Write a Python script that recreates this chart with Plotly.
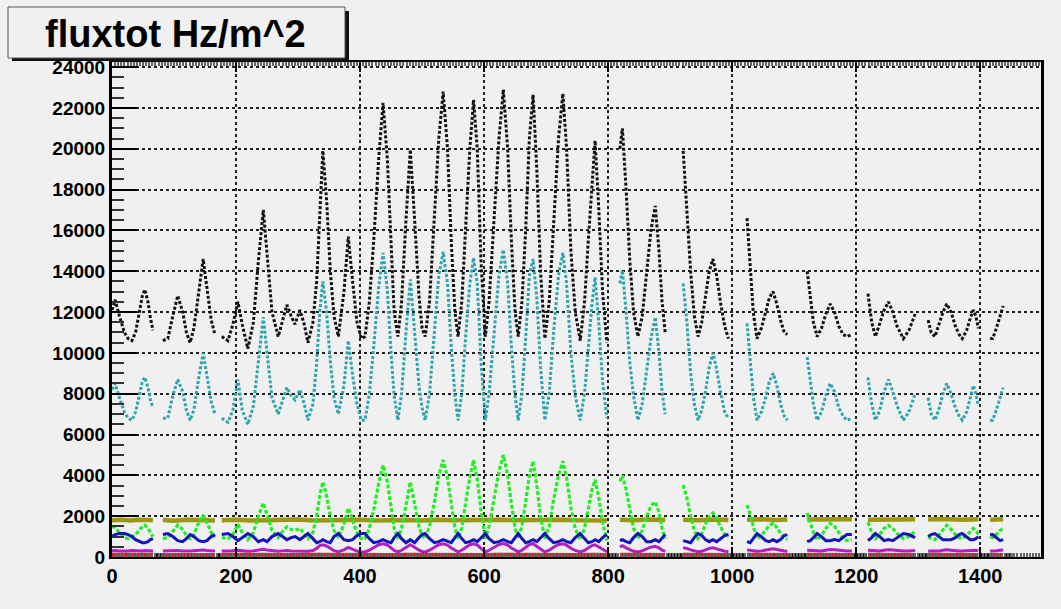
import plotly.graph_objects as go

# ---------------- data ----------------
x_pts = [
    0, 5, 12, 20, 26, 32, 38, 44, 49, 53, 58, 62, 66,
    82, 90, 98, 106, 114, 120, 126, 132, 140, 147, 153, 160, 166,
    177, 187, 195, 203, 210, 219, 228, 236, 244, 250,
    258, 268, 275, 282, 289, 295, 303, 310, 316, 324,
    330, 335, 340, 346, 352, 358, 365, 374, 381, 388,
    395, 402, 408, 415, 422, 430, 437, 444, 450, 455,
    461, 467, 474, 481, 488, 495, 500, 505, 512, 520,
    527, 534, 541, 547, 553, 558, 564, 570, 577, 583,
    589, 595, 602, 608, 616, 624, 631, 638, 644, 650,
    655, 661, 667, 673, 679, 685, 691, 698, 705, 712,
    720, 727, 733, 740, 747, 755, 762, 768, 774, 779,
    785, 791, 798,
    819, 823, 829, 835, 841, 848, 855, 862, 869, 876, 882, 887, 892,
    921, 927, 933, 939, 945, 951, 957, 963, 969, 975, 981, 988, 994,
    1024, 1029, 1034, 1040, 1047, 1054, 1060, 1066, 1072, 1078, 1084, 1089,
    1121, 1126, 1131, 1137, 1144, 1151, 1158, 1165, 1172, 1179, 1185, 1193,
    1219, 1225, 1231, 1238, 1245, 1252, 1259, 1266, 1276, 1285, 1295,
    1316, 1321, 1327, 1334, 1340, 1346, 1353, 1360, 1366, 1371, 1378, 1384, 1389, 1393, 1397,
    1416, 1420, 1426, 1432, 1437,
]

flux_total = [
    12100, 12600, 11800, 11000, 10700, 10600, 11000, 12000, 12800, 13100, 12500, 11700, 11100,
    10600, 10700, 11800, 12800, 12000, 11000, 10500, 11200, 13000, 14600, 13200, 11600, 10900,
    10800, 10600, 11400, 12500, 11400, 10200, 11500, 14500, 17000, 14800,
    12000, 10800, 11600, 12350, 11800, 11400, 12100, 11400, 10500, 11500,
    13500, 17000, 19900, 17500, 14000, 11800, 10800, 13000, 15700, 13500,
    11500, 10700, 10800, 12500, 15500, 19500, 22250, 19500, 15000, 12000,
    10800, 12500, 16500, 19950, 16500, 12800, 11200, 10800, 12500, 16500,
    20500, 22800, 20000, 15500, 12000, 10800, 12500, 16000, 20000, 22400,
    20000, 14500, 10800, 12500, 16500, 20500, 22900, 20000, 15500, 12000,
    10800, 12500, 16000, 20500, 22650, 19000, 14000, 10700, 12500, 16500,
    20500, 22700, 20000, 15000, 12000, 10600, 12500, 15500, 18500, 20400,
    17000, 13000, 10500,
    20000, 21000, 18000, 14500, 12000, 10800, 11800, 14000, 16000, 17200, 15000, 12500, 11000,
    19900, 17000, 14000, 11800, 10800, 11500, 12800, 14000, 14600, 13800, 12500, 11300, 10700,
    16600, 14500, 12000, 10700, 11200, 12000, 12700, 13000, 12400, 11600, 11000, 10900,
    14000, 12800, 11500, 10800, 11200, 11900, 12400, 12000, 11300, 10900, 10800, 10900,
    12900, 11500, 10800, 11400, 12100, 12500, 12000, 11300, 10700, 11100, 11900,
    11600, 11000, 10800, 11400, 12000, 12400, 12000, 11300, 10900, 10700, 11100, 11700, 12100, 11800, 11200,
    10700, 10700, 11200, 11800, 12300,
]

flux_cyan = [
    8200, 8500, 7800, 7100, 6800, 6700, 7100, 7900, 8600, 8800, 8300, 7700, 7300,
    6800, 6800, 7900, 8700, 8100, 7200, 6700, 7200, 8800, 10000, 8900, 7600, 7000,
    6800, 6600, 7200, 8700, 7200, 6500, 7400, 9700, 11750, 10000,
    7800, 7000, 7600, 8300, 7900, 7700, 8200, 7500, 6700, 7500,
    9500, 12000, 13500, 12000, 9600, 7800, 7000, 8400, 10600, 8900,
    7500, 6700, 6700, 8000, 10300, 13200, 14900, 13100, 10000, 7900,
    6700, 8000, 11000, 13600, 11000, 8400, 7300, 6700, 8000, 11000,
    13800, 14950, 13400, 10300, 7900, 6700, 8000, 10700, 13400, 14650,
    13400, 9600, 6700, 8000, 11000, 13800, 15050, 13400, 10300, 7900,
    6700, 8000, 10700, 13800, 14600, 12700, 9300, 6700, 8000, 11000,
    13800, 14900, 13400, 10000, 7900, 6700, 8000, 10300, 12400, 13700,
    11400, 8600, 6800,
    13400, 14050, 12000, 9500, 7900, 6700, 7500, 9000, 10700, 11750, 10000, 8100, 7000,
    13400, 11500, 9000, 7500, 6700, 7200, 8100, 9300, 10000, 9200, 8100, 7100, 6800,
    11450, 9500, 7900, 6700, 7100, 7800, 8600, 9000, 8400, 7500, 6900, 6700,
    9800, 8600, 7500, 6700, 7100, 7900, 8500, 8100, 7300, 6900, 6700, 6800,
    8800, 7500, 6700, 7200, 8100, 8700, 8100, 7400, 6700, 7100, 8000,
    7800, 7000, 6700, 7300, 8000, 8500, 8000, 7300, 6900, 6700, 7100, 7800, 8400, 8000, 7400,
    6700, 6700, 7200, 7800, 8300,
]

flux_green = [
    1500, 1450, 1200, 950, 900, 1000, 1100, 1300, 1500, 1560, 1400, 1200, 1000,
    900, 950, 1250, 1560, 1350, 1050, 900, 1100, 1700, 2050, 1700, 1200, 950,
    950, 900, 1100, 1600, 1200, 850, 1200, 2000, 2650, 2100,
    1300, 950, 1250, 1470, 1350, 1300, 1400, 1150, 900, 1200,
    2000, 3000, 3680, 3000, 2000, 1300, 950, 1600, 2400, 1800,
    1200, 900, 900, 1400, 2300, 3600, 4500, 3700, 2400, 1400,
    900, 1400, 2500, 3680, 2600, 1500, 1050, 900, 1500, 2700,
    4000, 4750, 3900, 2500, 1400, 900, 1400, 2600, 3900, 4750,
    3800, 2300, 900, 1500, 2800, 4200, 5000, 4000, 2600, 1400,
    900, 1500, 2700, 4000, 4700, 3500, 2000, 900, 1500, 2800,
    4000, 4700, 3900, 2400, 1400, 850, 1400, 2400, 3300, 3780,
    2900, 1700, 800,
    3700, 4000, 3300, 2300, 1400, 900, 1300, 2000, 2500, 2700, 2200, 1400, 900,
    3530, 2900, 2000, 1300, 900, 1150, 1600, 2000, 2150, 1900, 1500, 1100, 1000,
    2550, 2100, 1500, 900, 1050, 1300, 1550, 1650, 1450, 1150, 950, 850,
    2150, 1700, 1200, 850, 1050, 1400, 1650, 1500, 1200, 900, 800, 850,
    1700, 1200, 900, 1100, 1400, 1550, 1400, 1150, 900, 1000, 1250,
    1000, 900, 850, 1100, 1350, 1550, 1350, 1100, 950, 900, 1050, 1250, 1400, 1300, 1100,
    1000, 950, 1100, 1300, 1400,
]

flux_blue = [
    1000, 1100, 1150, 1150, 1100, 1000, 850, 750, 700, 700, 750, 850, 900,
    1100, 1150, 1000, 800, 750, 900, 1100, 1000, 800, 750, 800, 1000, 1100,
    1100, 1150, 1000, 800, 950, 1150, 1000, 750, 850, 750,
    1000, 1150, 1000, 850, 950, 1000, 850, 1000, 1150, 900,
    700, 750, 850, 750, 700, 1000, 1150, 850, 800, 850,
    1050, 1150, 1150, 900, 700, 750, 850, 750, 700, 950,
    1150, 900, 700, 850, 700, 950, 1100, 1150, 900, 700,
    750, 850, 750, 700, 950, 1150, 900, 700, 750, 850,
    750, 950, 1150, 900, 700, 750, 850, 750, 700, 950,
    1150, 900, 700, 750, 850, 750, 950, 1150, 900, 700,
    750, 850, 750, 700, 950, 1150, 900, 700, 750, 850,
    750, 950, 1100,
    800, 850, 750, 700, 950, 1150, 1000, 750, 750, 850, 750, 950, 1100,
    800, 750, 700, 950, 1150, 1050, 850, 750, 850, 750, 900, 1050, 1100,
    750, 700, 900, 1150, 1000, 800, 750, 850, 750, 850, 1050, 1100,
    750, 800, 950, 1150, 1000, 800, 800, 850, 800, 950, 1100, 1100,
    800, 950, 1150, 1000, 800, 850, 800, 950, 1150, 1100, 950,
    1000, 1100, 1150, 1000, 850, 850, 850, 950, 1100, 1150, 1000, 850, 850, 900, 1000,
    1100, 1100, 950, 800, 850,
]

flux_magenta = [
    300, 320, 300, 280, 300, 320, 300, 280, 300, 320, 300, 300, 300,
    300, 310, 330, 320, 300, 290, 300, 310, 330, 340, 320, 300, 290,
    300, 290, 310, 330, 300, 280, 300, 340, 380, 340,
    300, 280, 300, 320, 300, 290, 310, 300, 280, 320,
    420, 560, 600, 540, 420, 310, 260, 350, 470, 380,
    290, 250, 250, 330, 470, 600, 650, 590, 450, 320,
    250, 330, 470, 600, 480, 330, 270, 250, 330, 480,
    600, 650, 580, 440, 320, 250, 330, 470, 600, 650,
    580, 420, 250, 330, 480, 610, 660, 580, 440, 320,
    250, 330, 470, 610, 650, 540, 390, 250, 330, 480,
    610, 650, 580, 430, 320, 250, 320, 440, 560, 600,
    500, 370, 260,
    500, 550, 450, 350, 280, 250, 300, 400, 480, 520, 450, 330, 280,
    450, 420, 350, 300, 260, 280, 350, 420, 450, 400, 330, 280, 270,
    350, 320, 300, 280, 300, 330, 380, 400, 370, 320, 290, 280,
    330, 320, 300, 290, 300, 330, 370, 350, 320, 300, 290, 290,
    330, 310, 290, 300, 330, 360, 340, 310, 290, 300, 320,
    300, 290, 290, 300, 330, 360, 330, 300, 290, 290, 300, 330, 350, 330, 300,
    290, 290, 310, 330, 340,
]

olive_x = [0, 15, 30, 45, 66, None,
           82, 100, 120, 140, 166, None,
           177, 200, 225, 250, 275, 300, 325, 350, 375, 400, 425, 450, 475,
           500, 525, 550, 575, 600, 625, 650, 675, 700, 725, 750, 775, 798, None,
           819, 840, 865, 892, None,
           921, 945, 970, 994, None,
           1024, 1045, 1070, 1089, None,
           1121, 1145, 1170, 1193, None,
           1219, 1245, 1270, 1295, None,
           1316, 1340, 1370, 1397, None,
           1416, 1437]
flux_olive = [1800, 1830, 1790, 1820, 1800, None,
              1810, 1780, 1820, 1800, 1790, None,
              1800, 1830, 1790, 1820, 1800, 1840, 1790, 1820, 1800, 1830, 1790, 1820, 1810,
              1790, 1830, 1800, 1820, 1790, 1830, 1800, 1820, 1790, 1830, 1800, 1820, 1790, None,
              1820, 1800, 1840, 1810, None,
              1830, 1800, 1840, 1810, None,
              1820, 1850, 1810, 1840, None,
              1840, 1860, 1830, 1850, None,
              1830, 1860, 1840, 1850, None,
              1840, 1860, 1830, 1850, None,
              1830, 1850]
flux_red = [110, 100, 110, 100, 110, None,
            100, 110, 100, 110, 100, None,
            110, 100, 110, 100, 110, 100, 110, 100, 110, 100, 110, 100, 110,
            100, 110, 100, 110, 100, 110, 100, 110, 100, 110, 100, 110, 100, None,
            110, 100, 110, 100, None,
            110, 100, 110, 100, None,
            110, 100, 110, 100, None,
            110, 100, 110, 100, None,
            110, 100, 110, 100, None,
            110, 100, 110, 100, None,
            110, 100]

# run periods with no beam: total drops to zero
gap_start = [69, 169, 800, 895, 997, 1092, 1196, 1298, 1399, 1440]
gap_end = [80, 175, 817, 919, 1019, 1119, 1217, 1314, 1414, 1452]

x_ticks = [0, 200, 400, 600, 800, 1000, 1200, 1400]
y_ticks = list(range(0, 24001, 2000))
title_text = "fluxtot Hz/m^2"


# ---------------- helpers ----------------
def split_runs(xs, ys):
    """insert None where the time series has a hole"""
    ox, oy = [], []
    for i, (xv, yv) in enumerate(zip(xs, ys)):
        if i > 0 and xv - xs[i - 1] > 10.5:
            ox.append(None)
            oy.append(None)
        ox.append(xv)
        oy.append(yv)
    return ox, oy


gx, gy = [], []
for a, b in zip(gap_start, gap_end):
    gx += [a, b, None]
    gy += [90, 90, None]

fig = go.Figure()


def add_line(xs, ys, color, width, dash="solid"):
    fig.add_trace(go.Scatter(x=xs, y=ys, mode="lines", connectgaps=False,
                             line=dict(color=color, width=width, dash=dash),
                             showlegend=False, hoverinfo="skip"))


bx, by = split_runs(x_pts, flux_total)
add_line(bx, by, "#111111", 3, "3px,2px")
cx, cy = split_runs(x_pts, flux_cyan)
add_line(cx, cy, "#2ea4ae", 3, "3px,2px")
add_line(olive_x, flux_olive, "#9c9610", 4.5)
grx, gry = split_runs(x_pts, flux_green)
add_line(grx, gry, "#22ee22", 3.2, "4px,2px")
blx, bly = split_runs(x_pts, flux_blue)
add_line(blx, bly, "#1414b8", 3)
mx, my = split_runs(x_pts, flux_magenta)
add_line(mx, my, "#b020c0", 3)
add_line(olive_x, flux_red, "#e01010", 4)
add_line(gx, gy, "#111111", 4)

W, H = 1061, 609
L, R, T, B = 112, 1041, 62, 557


def px(p):
    return (p - L) / (R - L)


def py(p):
    return (B - p) / (B - T)


bg = "#f0f0f0"
fig.update_layout(
    width=W, height=H, autosize=False,
    margin=dict(l=L, r=W - R, t=T, b=H - B, pad=0),
    paper_bgcolor=bg, plot_bgcolor=bg,
    font=dict(family="Liberation Sans", color="black"),
    shapes=[
        dict(type="rect", xref="paper", yref="paper",
             x0=px(12), x1=px(349), y0=py(11), y1=py(61),
             fillcolor="#111111", line=dict(width=0), layer="above"),
        dict(type="rect", xref="paper", yref="paper",
             x0=px(8), x1=px(345), y0=py(7), y1=py(58),
             fillcolor=bg, line=dict(color="#555555", width=1), layer="above"),
    ],
    annotations=[
        dict(text="<b>" + title_text + "</b>", xref="paper", yref="paper",
             x=px(175), y=py(34), xanchor="center", yanchor="middle",
             showarrow=False, font=dict(family="Liberation Sans", size=38, color="black")),
    ],
)

fig.update_xaxes(
    range=[0, 1498], tickvals=x_ticks, ticktext=[str(v) for v in x_ticks],
    ticks="inside", ticklen=10, tickwidth=1.5, tickcolor="black",
    showline=True, linecolor="black", linewidth=2, mirror="ticks",
    showgrid=True, gridcolor="#222222", gridwidth=1.5, griddash="dot",
    zeroline=False,
    minor=dict(dtick=5, tick0=0, ticks="inside", ticklen=4, tickcolor="#666666", showgrid=False),
    tickfont=dict(family="Liberation Sans", size=20, color="black", weight="bold"),
)
fig.update_yaxes(
    range=[0, 24250], tickvals=y_ticks, ticktext=[str(v) for v in y_ticks],
    ticks="inside", ticklen=25, tickwidth=2, tickcolor="black",
    showline=True, linecolor="black", linewidth=3, mirror=True,
    showgrid=True, gridcolor="#222222", gridwidth=1.5, griddash="dot",
    zeroline=False,
    minor=dict(dtick=500, tick0=0, ticks="inside", ticklen=12, tickcolor="#333333",
               tickwidth=1.5, showgrid=False),
    tickfont=dict(family="Liberation Sans", size=19, color="black", weight="bold"),
)

fig.write_html("out.html")
